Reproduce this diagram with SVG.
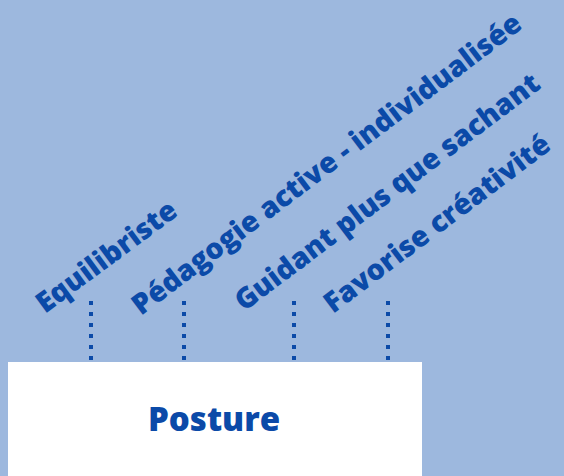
<svg xmlns="http://www.w3.org/2000/svg" width="564" height="476" viewBox="0 0 564 476">
<style>
.lbl{font-family:"Open Sans","Liberation Sans",sans-serif;font-weight:800;font-size:28.5px;fill:#0b4aa8}
.dot{stroke:#0b4aa8;stroke-width:4;stroke-dasharray:4 7;fill:none}
</style>
<rect x="0" y="0" width="564" height="476" fill="#9db8de"/>
<g id="connectors">
<line class="dot" x1="91" y1="301" x2="91" y2="362"/>
<line class="dot" x1="184" y1="301" x2="184" y2="362"/>
<line class="dot" x1="294" y1="301" x2="294" y2="362"/>
<line class="dot" x1="388" y1="301" x2="388" y2="362"/>
</g>
<g id="posture">
<rect x="8" y="362" width="414" height="114" fill="#ffffff"/>
<text x="214" y="431" text-anchor="middle" style="font-family:'Open Sans','Liberation Sans',sans-serif;font-weight:800;font-size:33px;fill:#0b4aa8">Posture</text>
</g>
<g id="equilibriste"><text class="lbl" transform="translate(45,314) rotate(-36.5)">Equilibriste</text></g>
<g id="pedagogie"><text class="lbl" transform="translate(141,316) rotate(-37)">Pédagogie active - individualisée</text></g>
<g id="guidant"><text class="lbl" transform="translate(244,312) rotate(-37)">Guidant plus que sachant</text></g>
<g id="favorise"><text class="lbl" transform="translate(333,314) rotate(-37)">Favorise créativité</text></g>
</svg>
